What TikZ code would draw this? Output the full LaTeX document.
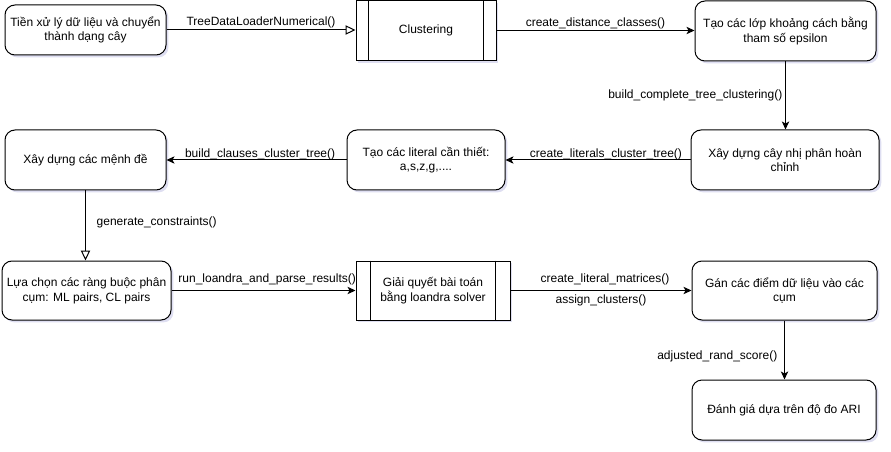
\documentclass[tikz,border=0pt]{standalone}
\usepackage{fontspec}
\setmainfont{Liberation Sans}
\usetikzlibrary{arrows.meta,shadows}
\tikzset{
  box/.style={draw=black, line width=0.75pt, rounded corners=7.5pt, fill=white, align=center,
    font=\fontsize{9pt}{11pt}\selectfont, inner sep=0pt,
    drop shadow={shadow xshift=1.8pt, shadow yshift=-1.8pt, opacity=0.18, fill=gray!60!blue}},
  proc/.style={draw=black, line width=0.75pt, fill=white, align=center,
    font=\fontsize{9pt}{11pt}\selectfont, inner sep=0pt,
    drop shadow={shadow xshift=1.8pt, shadow yshift=-1.8pt, opacity=0.18, fill=gray!60!blue}},
  conn/.style={draw=black, line width=0.75pt, -{Stealth[length=6pt,width=5.5pt,inset=1.5pt]}},
  oconn/.style={draw=black, line width=0.75pt, -{Triangle[open,length=7.5pt,width=7pt]}},
  lbl/.style={font=\fontsize{9pt}{11pt}\selectfont, inner sep=1pt},
}
\begin{document}
\begin{tikzpicture}[x=0.75pt,y=-0.75pt]
\path[use as bounding box, fill=white] (0,0) rectangle (891,452);

\node[box, minimum width=120.75pt, minimum height=37.5pt] (b1) at (85.5,30) {Tiền xử lý dữ liệu và chuyển\\thành dạng cây};
\node[proc, minimum width=105pt, minimum height=45pt] (clus) at (426,30.5) {Clustering};
\draw[line width=0.75pt] ([xshift=9.75pt]clus.north west) -- ([xshift=9.75pt]clus.south west);
\draw[line width=0.75pt] ([xshift=-9.75pt]clus.north east) -- ([xshift=-9.75pt]clus.south east);
\node[box, minimum width=135.75pt, minimum height=45pt] (b3) at (785.5,31) {Tạo các lớp khoảng cách bằng\\tham số epsilon};

\node[box, minimum width=141pt, minimum height=45pt] (b4) at (785,160) {Xây dựng cây nhị phân hoàn\\chỉnh};
\node[box, minimum width=118.5pt, minimum height=45pt] (b5) at (426,160) {Tạo các literal cần thiết:\\a,s,z,g,....};
\node[box, minimum width=120.75pt, minimum height=45pt] (b6) at (85.5,160) {Xây dựng các mệnh đề};

\node[box, minimum width=126.75pt, minimum height=44.25pt] (b7) at (86.5,290.5) {Lựa chọn các ràng buộc phân\\cụm: ML pairs, CL pairs};
\node[proc, minimum width=115.5pt, minimum height=44.25pt] (b8) at (433,290.5) {Giải quyết bài toán\\bằng loandra solver};
\draw[line width=0.75pt] ([xshift=11.25pt]b8.north west) -- ([xshift=11.25pt]b8.south west);
\draw[line width=0.75pt] ([xshift=-11.25pt]b8.north east) -- ([xshift=-11.25pt]b8.south east);
\node[box, minimum width=138.75pt, minimum height=44.25pt] (b9) at (784.5,290.5) {Gán các điểm dữ liệu vào các\\cụm};
\node[box, minimum width=138pt, minimum height=45pt] (b10) at (784,410) {Đánh giá dựa trên độ đo ARI};

\draw[oconn] (b1.east) -- (b1.east -| clus.west) node[lbl, midway, above] {TreeDataLoaderNumerical()};
\draw[conn] (clus.east) -- (clus.east -| b3.west) node[lbl, midway, above] {create\_distance\_classes()};
\draw[conn] (b3.south) -- (b3.south |- b4.north) node[lbl, midway, left=1pt] {build\_complete\_tree\_clustering()};
\draw[conn] (b4.west) -- (b4.west -| b5.east) node[lbl, pos=0.457, above, yshift=-1pt] {create\_literals\_cluster\_tree()};
\draw[conn] (b5.west) -- (b5.west -| b6.east) node[lbl, pos=0.48, above, yshift=-1pt] {build\_clauses\_cluster\_tree()};
\draw[oconn] (b6.south) -- (b6.south |- b7.north) node[lbl, pos=0.45, right=7pt] {generate\_constraints()};
\draw[conn] (b7.east) -- (b7.east -| b8.west) node[lbl, pos=0.52, above, yshift=3pt] {run\_loandra\_and\_parse\_results()};
\draw[conn] (b8.east) -- (b8.east -| b9.west) node[lbl, midway, above, yshift=3pt, xshift=3pt] {create\_literal\_matrices()}
  node[lbl, midway, below, yshift=-2pt] {assign\_clusters()};
\draw[conn] (b9.south) -- (b9.south |- b10.north) node[lbl, pos=0.6, left=4pt] {adjusted\_rand\_score()};
\end{tikzpicture}
\end{document}
